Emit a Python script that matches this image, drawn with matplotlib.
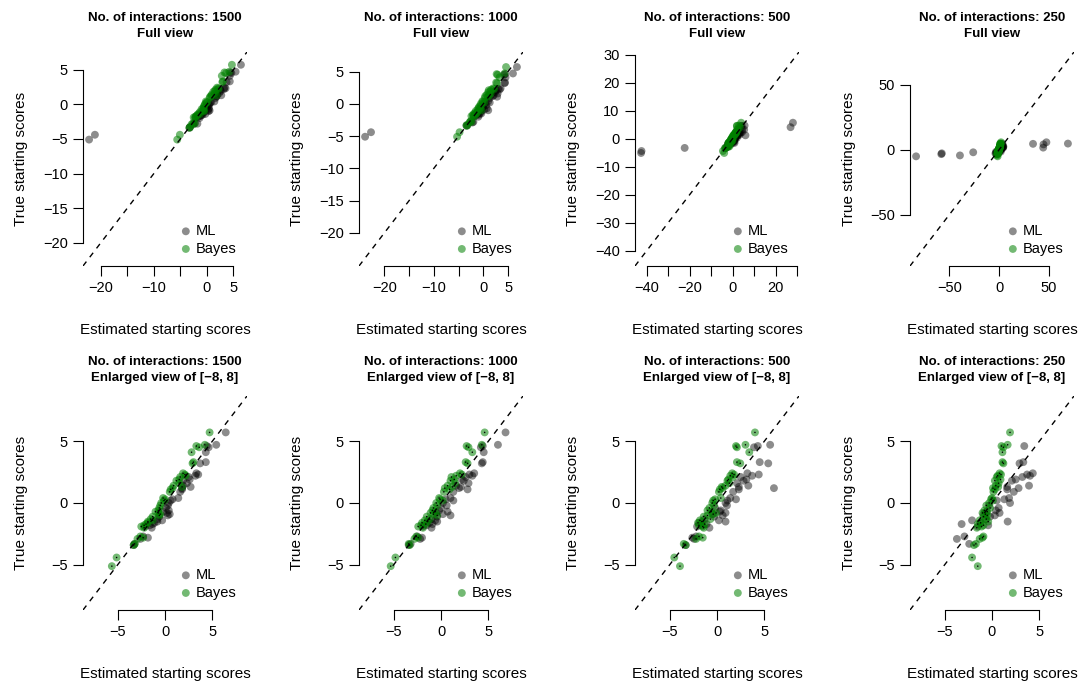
import matplotlib.pyplot as plt
import numpy as np

plt.rcParams['font.family'] = ['Liberation Sans', 'DejaVu Sans']

# true starting scores (shared by all panels)
true_scores = [5.7, 4.7, 4.6, 4.5, 4.1, 3.3, 3.2, 2.4, 2.3, 2.2, 2.1, 1.9, 1.8, 1.6, 1.4, 1.3,
               1.2, 1.1, 0.9, 0.4, 0.3, 0.2, 0.0, -0.2, -0.4, -0.6, -0.7, -0.8, -0.9, -1.0,
               -1.1, -1.3, -1.4, -1.5, -1.6, -1.7, -1.8, -1.9, -2.0, -2.7, -2.8, -2.9, -3.3,
               -3.4, -4.4, -5.1]

n_interactions = [1500, 1000, 500, 250]

ml_1500 = [6.4, 5.4, 4.4, 4.6, 4.3, 4.3, 3.7, 3.3, 3.5, 3.2, 2.5, 2.6, 1.9, 2.3, 1.9, 2.7,
           1.8, 1.8, 1.6, 1.4, 0.8, 0.6, 0.4, 0.3, 0.1, 0.4, -0.2, 0.2, 0.5, 0.3,
           -0.6, -0.8, -0.3, -0.8, -1.1, -1.3, -1.6, -2.1, -1.4, -2.3, -1.8, -2.6, -3.2,
           -3.3, -21.1, -22.2]
bayes_1500 = [4.7, 4.2, 3.3, 3.6, 2.8, 3.0, 2.9, 1.9, 2.1, 2.2, 1.6, 1.5, 1.2, 1.5, 0.9, 1.8,
              0.8, 0.6, 0.5, -0.2, 0.0, -0.1, -0.4, -0.5, -0.6, -0.7, -1.0, -0.7, -0.5, -0.6,
              -1.3, -1.5, -1.3, -1.8, -1.8, -2.0, -2.2, -2.5, -2.2, -2.6, -2.3, -2.9, -3.2,
              -3.3, -5.1, -5.6]

ml_1000 = [6.8, 6.0, 4.4, 4.2, 4.5, 4.4, 4.3, 3.5, 3.0, 3.3, 2.6, 2.2, 2.4, 2.9, 1.6, 2.1,
           1.9, 2.8, 1.3, 1.0, 0.5, 1.3, 0.2, 0.6, 0.0, -0.2, 0.7, -0.5, 0.2, 1.0,
           -0.4, -1.0, -0.6, -0.4, -1.2, -0.9, -1.5, -1.9, -1.0, -2.5, -2.0, -2.2, -3.2,
           -3.4, -22.7, -23.9]
bayes_1000 = [4.6, 4.3, 2.7, 2.9, 3.3, 2.6, 2.8, 2.0, 2.2, 1.6, 1.1, 1.4, 1.0, 1.5, 0.7, 1.2,
              0.4, 0.9, 0.3, -0.2, -0.1, 0.2, -0.5, -0.4, -0.8, -0.9, -0.6, -1.1, -0.8, -0.4,
              -1.5, -1.2, -1.7, -1.4, -2.0, -1.6, -2.1, -2.4, -1.9, -2.6, -2.4, -2.8, -3.4,
              -3.3, -4.8, -5.3]

ml_500 = [28.1, 5.6, 4.3, 3.9, 27.0, 4.5, 5.4, 3.2, 4.4, 3.7, 2.5, 3.1, 2.8, 2.1, 3.3, 2.3,
          6.0, 2.3, 1.7, 1.4, 2.0, 1.1, 0.9, 1.05, -0.2, 0.4, 0.3, 0.9, -0.5, 0.6,
          -0.3, -1.3, 0.2, 0.9, -1.9, -1.1, -1.6, -2.1, -0.8, -2.2, -2.6, -2.4, -22.3,
          -3.3, -42.4, -42.6]
bayes_500 = [4.0, 3.0, 2.0, 2.1, 3.4, 2.1, 2.45, 1.6, 1.8, 1.4, 1.7, 1.2, 1.1, 1.3, 0.9, 0.5,
             0.6, 0.3, 0.2, 0.4, -0.2, -0.4, -0.5, -0.3, -0.8, -1.0, -0.6, -0.1, -0.4, -1.0,
             -1.4, -0.7, -1.8, -1.6, -2.0, -1.3, -1.9, -1.5, -1.4, -1.9, -1.5, -2.2, -3.5,
             -3.3, -4.5, -3.9]

ml_250 = [47.4, 69.0, 3.4, 34.0, 44.5, 3.3, 2.9, 4.3, 3.7, 4.0, 3.2, 2.5, 2.1, 44.2, 3.9, 1.6,
          2.8, 1.6, 2.3, 1.8, 1.3, 0.5, 1.9, -0.3, 0.7, 0.4, -0.6, 0.8, -0.9, 0.3,
          -0.2, -0.7, -2.1, 1.65, -1.2, -3.2, -0.4, -1.5, -26.0, -2.9, -57.5, -3.7, -2.4,
          -58.0, -39.3, -83.3]
bayes_250 = [1.9, 1.65, 1.0, 1.2, 1.1, 1.1, 1.2, 0.8, 0.95, 0.6, 0.5, 0.9, 0.3, 0.7, 0.4, 0.65,
             0.1, 0.3, 0.15, 0.0, -0.1, 0.1, -0.3, -0.6, -0.2, -0.8, -0.5, -1.0, -0.7, -0.5,
             -0.9, -0.6, -1.3, -0.4, -1.2, -1.5, -0.9, -1.1, -1.6, -0.9, -1.0, -1.3, -1.7,
             -1.9, -2.1, -1.5]

ml_all = [ml_1500, ml_1000, ml_500, ml_250]
bayes_all = [bayes_1500, bayes_1000, bayes_500, bayes_250]

full_xticks = [[-20, -15, -10, -5, 0, 5], [-20, -15, -10, -5, 0, 5],
               [-40, -30, -20, -10, 0, 10, 20, 30], [-50, 0, 50]]
full_xlabels = [['\u221220', '', '\u221210', '', '0', '5'], ['\u221220', '', '\u221210', '', '0', '5'],
                ['\u221240', '', '\u221220', '', '0', '', '20', ''], ['\u221250', '0', '50']]
full_yticks = [[-20, -15, -10, -5, 0, 5], [-20, -15, -10, -5, 0, 5],
               [-40, -30, -20, -10, 0, 10, 20, 30], [-50, 0, 50]]
zoom_ticks = [-5, 0, 5]

W, H = 1081, 684
lefts = [83, 359, 635, 910]
bottoms = [266, 610]
aw, ah = 164, 214

ml_col = (0, 0, 0, 0.45)
bayes_col = (0, 0.5, 0, 0.55)

fig = plt.figure(figsize=(W / 100, H / 100), dpi=100)

for row in range(2):
    for col in range(4):
        ax = fig.add_axes([lefts[col] / W, 1 - bottoms[row] / H, aw / W, ah / H])
        ax.patch.set_visible(False)
        ml = np.array(ml_all[col])
        ba = np.array(bayes_all[col])
        tr = np.array(true_scores)

        p1 = ax.scatter(ml, tr, s=32, color=ml_col, edgecolors='none', zorder=2)
        p2 = ax.scatter(ba, tr, s=32, color=bayes_col, edgecolors='none', zorder=3)
        if row == 1:
            ax.scatter(ba, tr, s=1.2, color='black', edgecolors='none', zorder=4)
        ax.axline((0, 0), slope=1, color='black', lw=1.0, ls=(0, (4, 4)), zorder=5)

        if row == 0:
            vals = np.concatenate([ml, ba, tr])
            lo, hi = vals.min(), vals.max()
            pad = 0.04 * (hi - lo)
            lim = (lo - pad, hi + pad)
            xt, xl, yt = full_xticks[col], full_xlabels[col], full_yticks[col]
            view = 'Full view'
        else:
            lim = (-8.64, 8.64)
            xt, xl, yt = zoom_ticks, ['\u22125', '0', '5'], zoom_ticks
            view = 'Enlarged view of [\u22128, 8]'
        ax.set_xlim(lim)
        ax.set_ylim(lim)
        ax.set_xticks(xt)
        ax.set_xticklabels(xl)
        ax.set_yticks(yt)
        ax.spines['top'].set_visible(False)
        ax.spines['right'].set_visible(False)
        ax.spines['bottom'].set_bounds(xt[0], xt[-1])
        ax.spines['left'].set_bounds(yt[0], yt[-1])
        for s in ['bottom', 'left']:
            ax.spines[s].set_linewidth(0.8)
        ax.tick_params(direction='out', length=7, width=0.8, labelsize=10.5, pad=4)

        ax.set_title(f'No. of interactions: {n_interactions[col]}\n{view}',
                     fontsize=9.5, fontweight='bold', linespacing=1.45, pad=11)
        ax.set_xlabel('Estimated starting scores', fontsize=11)
        ax.set_ylabel('True starting scores', fontsize=11)
        ax.xaxis.set_label_coords(0.5, -0.30)
        ax.yaxis.set_label_coords(-0.375, 0.5)
        ax.xaxis.label.set_va('center')
        ax.yaxis.label.set_va('center')

        ax.legend([p1, p2], ['ML', 'Bayes'], loc='lower right', frameon=False,
                  fontsize=10.5, handletextpad=0.2, labelspacing=0.25,
                  borderaxespad=0.5, handlelength=1.0, borderpad=0.2, scatterpoints=1)

fig.savefig('out.png', dpi=100)
